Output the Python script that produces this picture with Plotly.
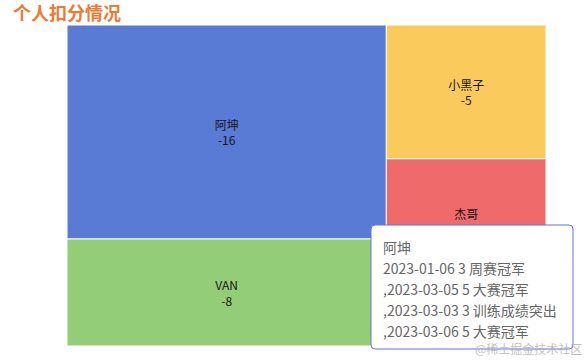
import plotly.graph_objects as go

# ---- data ----
names = ["阿坤", "VAN", "小黑子", "杰哥"]
deductions = [16, 8, 5, 7]
colors = ["#5a7bd5", "#93cd77", "#fbca5d", "#ef6a6a"]

tip_name = "阿坤"
tip_dates = ["2023-01-06", "2023-03-05", "2023-03-03", "2023-03-06"]
tip_points = [3, 5, 3, 5]
tip_reasons = ["周赛冠军", "大赛冠军", "训练成绩突出", "大赛冠军"]

title_text = "个人扣分情况"
watermark_text = "@稀土掘金技术社区"

# ---- layout geometry (pixels) ----
W, H = 587, 361
ML, MR, MT, MB = 67, 41, 25, 15
PW, PH = W - ML - MR, H - MT - MB


def px(x):
    return (x - ML) / PW


def py(y):
    return (H - MB - y) / PH


FONT = "Noto Sans CJK SC, Microsoft YaHei, sans-serif"

nb = "\u00a0"
templates = []
for n in names:
    t = "%{label}<br>-%{value}"
    if n == "杰哥":  # label sits higher in the reference
        t += ("<br>" + nb) * 4
    templates.append(t)

fig = go.Figure(
    go.Treemap(
        labels=names,
        parents=[""] * len(names),
        values=deductions,
        sort=False,
        texttemplate=templates,
        textposition="middle center",
        textfont=dict(family=FONT, size=12, color="#151515"),
        marker=dict(
            colors=colors,
            line=dict(width=1, color="white"),
            pad=dict(t=0, l=0, r=0, b=0),
        ),
        tiling=dict(packing="squarify", squarifyratio=1.5, pad=0),
        pathbar=dict(visible=False),
        hovertemplate="%{label}<br>-%{value}<extra></extra>",
    )
)

# ---- emulated tooltip ----
x0, x1, y0, y1, r = 371, 573, 225, 349, 4
path = (
    f"M {px(x0 + r)} {py(y0)} L {px(x1 - r)} {py(y0)} "
    f"Q {px(x1)} {py(y0)} {px(x1)} {py(y0 + r)} "
    f"L {px(x1)} {py(y1 - r)} Q {px(x1)} {py(y1)} {px(x1 - r)} {py(y1)} "
    f"L {px(x0 + r)} {py(y1)} Q {px(x0)} {py(y1)} {px(x0)} {py(y1 - r)} "
    f"L {px(x0)} {py(y0 + r)} Q {px(x0)} {py(y0)} {px(x0 + r)} {py(y0)} Z"
)
fig.add_shape(
    type="path", path=path, xref="paper", yref="paper",
    fillcolor="white", line=dict(color="#5a7bd5", width=1), layer="above",
)

tip_lines = [tip_name] + [
    ("," if i else "") + f"{d} {p} {rsn}"
    for i, (d, p, rsn) in enumerate(zip(tip_dates, tip_points, tip_reasons))
]
for i, line in enumerate(tip_lines):
    fig.add_annotation(
        x=px(381), y=py(246.5 + 21 * i), xref="paper", yref="paper",
        xanchor="left", yanchor="middle", showarrow=False, text=line,
        font=dict(family=FONT, size=14, color="#666666"),
    )

fig.add_annotation(
    x=px(584), y=py(349), xref="paper", yref="paper",
    xanchor="right", yanchor="middle", showarrow=False, text=watermark_text,
    font=dict(family=FONT, size=12, color="rgba(170,170,170,0.75)"),
)

fig.update_layout(
    width=W, height=H,
    margin=dict(l=ML, r=MR, t=MT, b=MB),
    paper_bgcolor="white",
    title=dict(
        text=title_text, x=13 / W, xref="container", xanchor="left",
        y=1 - 13.5 / H, yref="container", yanchor="middle",
        font=dict(family=FONT, size=18, color="#eb7a35", weight="bold"),
    ),
    showlegend=False,
)

fig.write_html(
    "out.html",
    config={"displayModeBar": False},
    post_script="document.body.style.margin='0';document.body.style.padding='0';",
)
